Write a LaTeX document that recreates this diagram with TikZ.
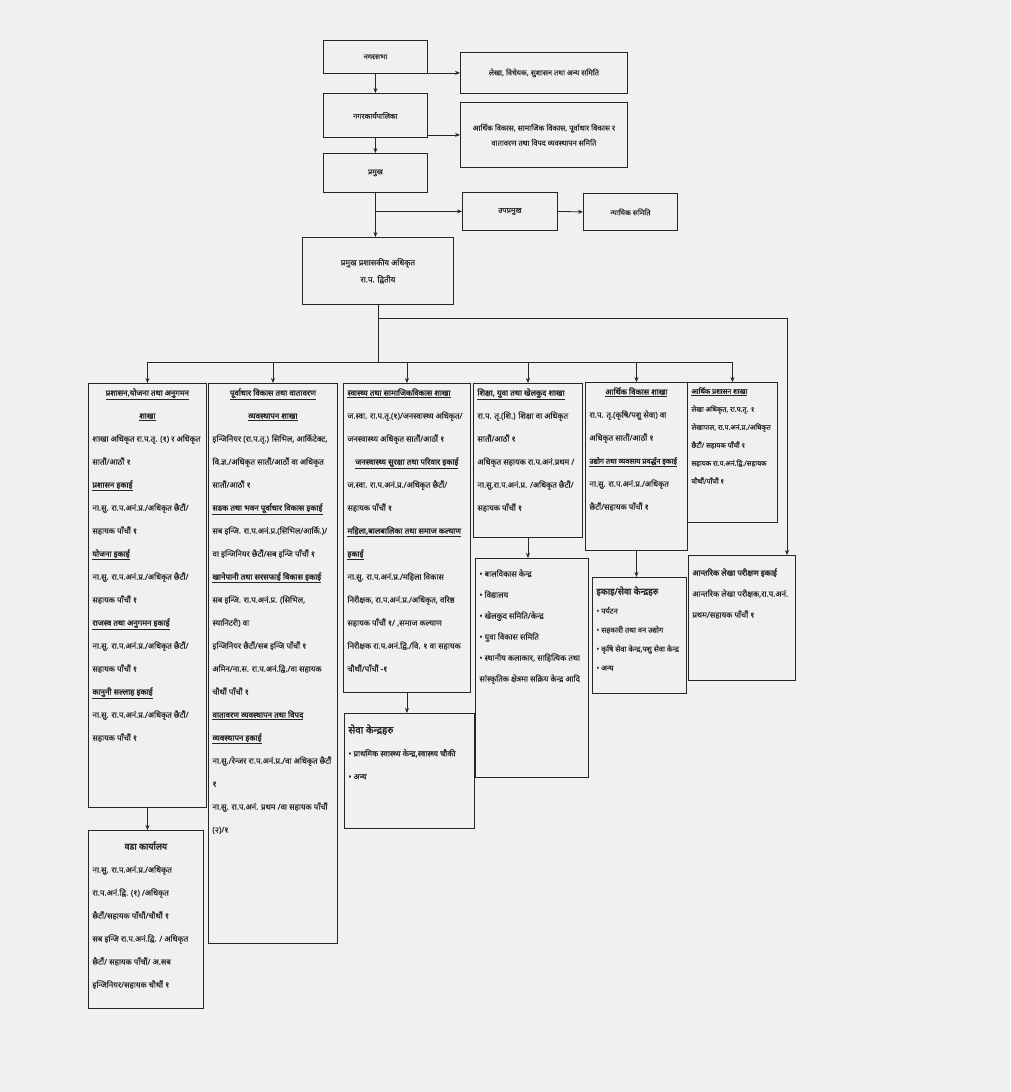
\documentclass[tikz,border=0pt]{standalone}
\usepackage{fontspec}
\setmainfont{Noto Sans}[Script=Devanagari, FakeBold=0.4, BoldFont=Noto Sans, BoldFeatures={FakeBold=2.2}]
\usetikzlibrary{arrows.meta}
\newcommand\pbx[3]{\parbox[c][#2pt][t]{#1pt}{\raggedright #3}}
\newcommand\hd[1]{\underline{\textbf{#1}}}
\begin{document}
\begin{tikzpicture}[x=1pt,y=-1pt,
 box/.style={draw=black!85, line width=0.9pt, inner xsep=4pt, inner ysep=5pt, anchor=north west, font=\fontsize{8}{23}\selectfont, text=black!85},
 tbox/.style={draw=black!85, line width=0.8pt, anchor=north west, align=center, font=\fontsize{7.5}{15}\selectfont, inner sep=2pt, text=black!85},
 arr/.style={draw=black!85, line width=0.8pt, -{Stealth[length=5pt,width=4pt]}},
 ln/.style={draw=black!85, line width=0.8pt}]
\fill[black!6] (0,0) rectangle (1010,1092);
\useasboundingbox (0,0) rectangle (1010,1092);

% top column
\node[tbox, minimum width=104, minimum height=33] (b1) at (323,40) {नगरसभा};
\node[tbox, minimum width=104, minimum height=44] (b2) at (323,93) {नगरकार्यपालिका};
\node[tbox, minimum width=104, minimum height=39] (b3) at (323,153) {प्रमुख};
\node[tbox, minimum width=167, minimum height=41] (r1) at (460,52) {लेखा, विधेयक, सुशासन तथा अन्य समिति};
\node[tbox, minimum width=167, minimum height=65] (r2) at (460,102) {आर्थिक विकास, सामाजिक विकास, पूर्वाधार विकास र\\ वातावरण तथा विपद व्यवस्थापन समिति};
\node[tbox, minimum width=95, minimum height=38] (r3) at (462,192) {उपप्रमुख};
\node[tbox, minimum width=94, minimum height=37] (r4) at (583,193) {न्यायिक समिति};
\node[tbox, minimum width=151, minimum height=67, font=\fontsize{8}{17}\selectfont] (cao) at (302,237) {प्रमुख प्रशासकीय अधिकृत\\ रा.प. द्वितीय};

\draw[arr] (b1.east |- r1.west) -- (r1.west);
\draw[arr] (b2.east |- r2.west) -- (r2.west);
\draw[arr] (b1.south) -- (b2.north);
\draw[arr] (b2.south) -- (b3.north);
\draw[arr] (b3.south) -- (b3.south |- cao.north);
\coordinate (j1) at (b3.south |- r3.west);
\draw[arr] (j1) -- (r3.west);
\draw[arr] (r3.east) -- (r4.west);

% branch boxes
\node[box] (c1) at (88,383) {\pbx{110}{414}{%
\centering\hd{प्रशासन,योजना तथा अनुगमन}\par \hd{शाखा}\par\raggedright
शाखा अधिकृत रा.प.तृ. (१) र अधिकृत सातौं/आठौं १\par
\hd{प्रशासन इकाई}\par
ना.सु. रा.प.अनं.प्र./अधिकृत छैटौं/ सहायक पाँचौं १\par
\hd{योजना इकाई}\par
ना.सु. रा.प.अनं.प्र./अधिकृत छैटौं/ सहायक पाँचौं १\par
\hd{राजस्व तथा अनुगमन इकाई}\par
ना.सु. रा.प.अनं.प्र./अधिकृत छैटौं/ सहायक पाँचौं १\par
\hd{कानुनी सल्लाह इकाई}\par
ना.सु. रा.प.अनं.प्र./अधिकृत छैटौं/ सहायक पाँचौं १}};

\node[box] (c2) at (208,383) {\pbx{121}{550}{%
\centering\hd{पूर्वाधार विकास तथा वातावरण}\par \hd{व्यवस्थापन शाखा}\par\raggedright
इन्जिनियर (रा.प.तृ.) सिभिल, आर्किटेक्ट, वि.ज्ञ./अधिकृत सातौं/आठौं वा अधिकृत सातौं/आठौं १\par
\hd{सडक तथा भवन पूर्वाधार विकास इकाई}\par
सब इन्जि. रा.प.अनं.प्र.(सिभिल/आर्कि.)/ वा इन्जिनियर छैटौं/सब इन्जि पाँचौं १\par
\hd{खानेपानी तथा सरसफाई विकास इकाई}\par
सब इन्जि. रा.प.अनं.प्र. (सिभिल, स्यानिटरी) वा\par
इन्जिनियर छैटौं/सब इन्जि पाँचौं १\par
अमिन/ना.स. रा.प.अनं.द्वि./वा सहायक चौथौं पाँचौं १\par
\hd{वातावरण व्यवस्थापन तथा विपद}\par
\hd{व्यवस्थापन इकाई}\par
ना.सु./रेन्जर रा.प.अनं.प्र./वा अधिकृत छैटौं १\par
ना.सु. रा.प.अनं. प्रथम /वा सहायक पाँचौं (२)/१}};

\node[box] (c3) at (343,383) {\pbx{119}{299}{%
\hd{स्वास्थ्य तथा सामाजिकविकास शाखा}\par
ज.स्वा. रा.प.तृ.(१)/जनस्वास्थ्य अधिकृत/ जनस्वास्थ्य अधिकृत सातौं/आठौं १\par
\centering\hd{जनस्वास्थ्य सुरक्षा तथा परिवार इकाई}\par\raggedright
ज.स्वा. रा.प.अनं.प्र./अधिकृत छैटौं/ सहायक पाँचौं १\par
\hd{महिला,बालबालिका तथा समाज कल्याण}\par
\hd{इकाई}\par
ना.सु. रा.प.अनं.प्र./महिला विकास निरीक्षक, रा.प.अनं.प्र./अधिकृत, वरिष्ठ सहायक पाँचौं १/ ,समाज कल्याण निरीक्षक रा.प.अनं.द्वि./वि. १ वा सहायक चौथौं/पाँचौं -१}};

\node[box] (c4) at (473,383) {\pbx{101}{144}{%
\hd{शिक्षा, युवा तथा खेलकुद शाखा}\par
रा.प. तृ.(शि.) शिक्षा वा अधिकृत सातौं/आठौं १\par
अधिकृत सहायक रा.प.अनं.प्रथम / ना.सु.रा.प.अनं.प्र. /अधिकृत छैटौं/ सहायक पाँचौं १}};

\node[box] (c5) at (585,382) {\pbx{94}{158}{%
\centering\hd{आर्थिक विकास शाखा}\par\raggedright
रा.प. तृ.(कृषि/पशु सेवा) वा अधिकृत सातौं/आठौं १\par
{\fontsize{7.3}{23}\selectfont\hd{उद्योग तथा व्यवसाय प्रवर्द्धन इकाई}}\par
ना.सु. रा.प.अनं.प्र./अधिकृत छैटौं/सहायक पाँचौं १}};

\node[box, font=\fontsize{7}{18}\selectfont] (c6) at (687,382) {\pbx{82}{130}{%
\hd{आर्थिक प्रशासन शाखा}\par
लेखा अधिकृत, रा.प.तृ. १\par
लेखापाल, रा.प.अनं.प्र./अधिकृत छैटौं/ सहायक पाँचौं १\par
सहायक रा.प.अनं.द्वि./सहायक चौथौं/पाँचौं १}};

% lower boxes
\node[box] (w1) at (88,830) {\pbx{107}{168}{%
\vspace*{6pt}\centering{\fontsize{9}{22}\selectfont\textbf{वडा कार्यालय}}\par\raggedright
ना.सु. रा.प.अनं.प्र./अधिकृत रा.प.अनं.द्वि. (१) /अधिकृत छैटौं/सहायक पाँचौं/चौथौं १\par
सब इन्जि रा.प.अनं.द्वि. / अधिकृत छैटौं/ सहायक पाँचौं/ अ.सब इन्जिनियर/सहायक चौथौं १}};

\node[box] (s3) at (344,713) {\pbx{122}{105}{%
\vspace*{6pt}{\fontsize{10}{22}\selectfont\textbf{सेवा केन्द्रहरु}}\par
•\ प्राथमिक स्वास्थ्य केन्द्र,स्वास्थ्य चौकी\par
•\ अन्य}};

\node[box, font=\fontsize{8}{21}\selectfont] (s4) at (475,558) {\pbx{105}{209}{%
\vspace*{6pt}%
•\ बालविकास केन्द्र\par
•\ विद्यालय\par
•\ खेलकुद समिति/केन्द्र\par
•\ युवा विकास समिति\par
•\ स्थानीय कलाकार, साहित्यिक तथा सांस्कृतिक क्षेत्रमा सक्रिय केन्द्र आदि}};

\node[box] (s5) at (592,577) {\pbx{86}{106}{%
\vspace*{4pt}{\fontsize{9}{21}\selectfont\textbf{इकाइ/सेवा केन्द्रहरु}}\par
\fontsize{7.5}{19}\selectfont
•\ पर्यटन\par
•\ सहकारी तथा वन उद्योग\par
•\ कृषि सेवा केन्द्र,पशु सेवा केन्द्र\par
•\ अन्य}};

\node[box, font=\fontsize{8}{21}\selectfont] (s6) at (688,555) {\pbx{99}{115}{%
\vspace*{8pt}\textbf{आन्तरिक लेखा परीक्षण इकाई}\par
आन्तरिक लेखा परीक्षक,रा.प.अनं. प्रथम/सहायक पाँचौं १}};

% connectors below CAO
\coordinate (h1) at (cao.south |- 0,318);
\coordinate (h2) at (cao.south |- 0,362);
\coordinate (rt) at (787,318);
\draw[ln] (cao.south) -- (h2);
\draw[ln] (h1) -- (rt);
\draw[arr] (rt) -- (rt |- s6.north);
\draw[ln] (c1.north |- h2) -- (c6.north |- h2);
\foreach \c in {c1,c2,c3,c4,c5,c6}{\draw[arr] (\c.north |- h2) -- (\c.north);}
\draw[arr] (c1.south) -- (c1.south |- w1.north);
\draw[arr] (c3.south) -- (c3.south |- s3.north);
\draw[arr] (c4.south) -- (c4.south |- s4.north);
\draw[arr] (c5.south) -- (c5.south |- s5.north);
\end{tikzpicture}
\end{document}
